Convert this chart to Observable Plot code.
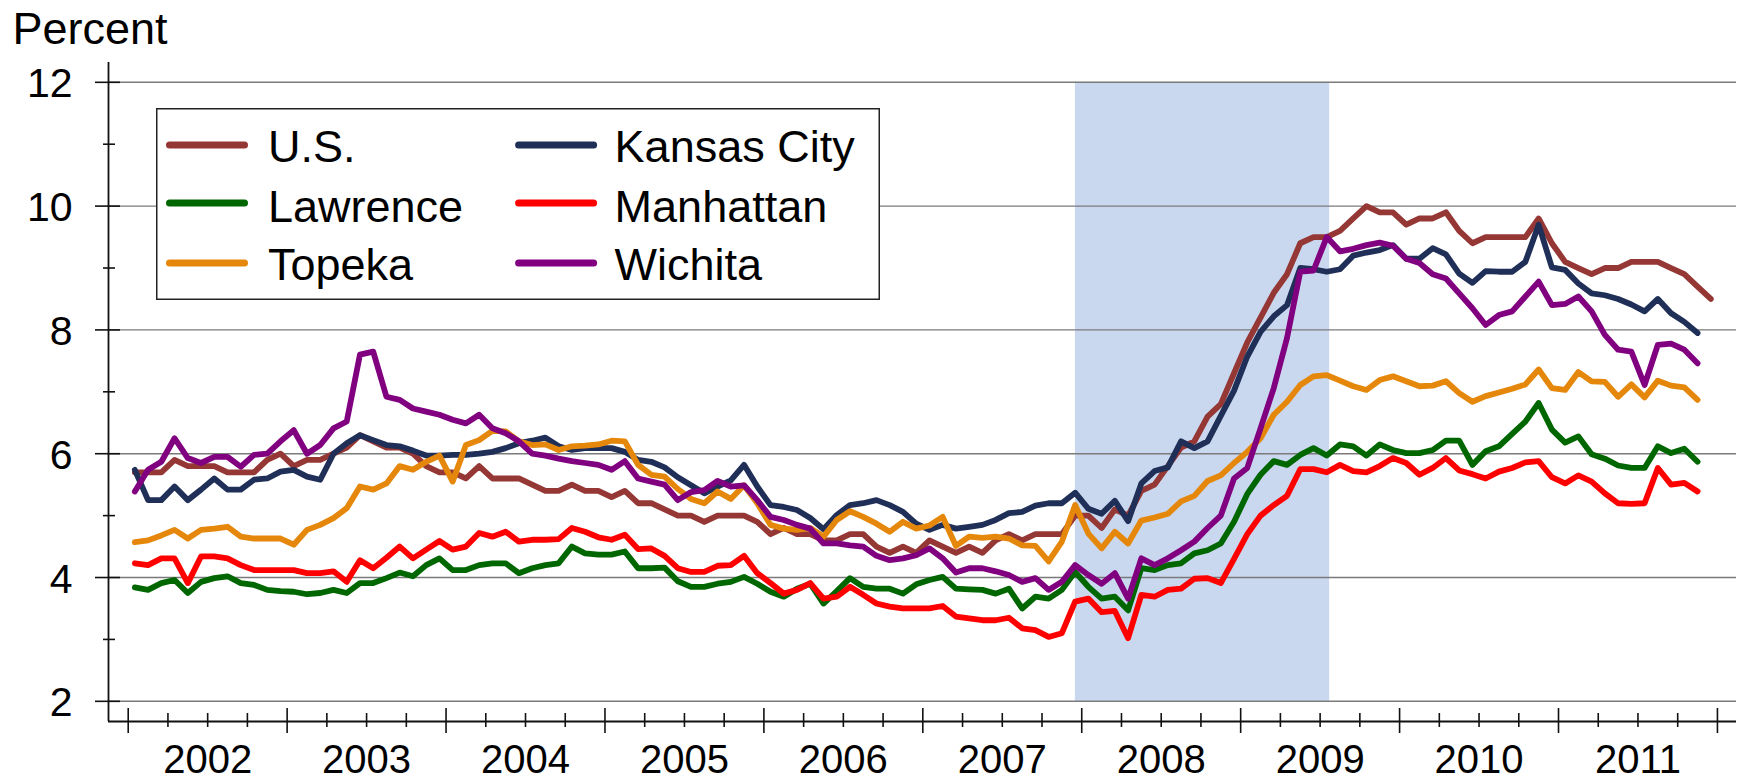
<!DOCTYPE html>
<html><head><meta charset="utf-8">
<script src="https://cdn.jsdelivr.net/npm/d3@7"></script>
<script src="https://cdn.jsdelivr.net/npm/@observablehq/plot@0.6"></script>
<style>
body{margin:0;background:#fff;}
#wrap{position:relative;width:1745px;height:782px;font-family:"Liberation Sans",Arial,sans-serif;}
#legend{position:absolute;left:156px;top:108px;}
</style></head><body><div id="wrap"></div>
<script>
// ---- data (monthly, starting January 2002) ----
const startYear = 2002;
const seriesNames = ["U.S.", "Kansas City", "Lawrence", "Manhattan", "Topeka", "Wichita"];
const seriesColors = ["#953735", "#1F2F57", "#006600", "#FF0000", "#E5870A", "#800080"];

const usRate = [
  5.7,5.7,5.7,5.9,5.8,5.8,5.8,5.7,5.7,5.7,5.9,6.0,
  5.8,5.9,5.9,6.0,6.1,6.3,6.2,6.1,6.1,6.0,5.8,5.7,
  5.7,5.6,5.8,5.6,5.6,5.6,5.5,5.4,5.4,5.5,5.4,5.4,
  5.3,5.4,5.2,5.2,5.1,5.0,5.0,4.9,5.0,5.0,5.0,4.9,
  4.7,4.8,4.7,4.7,4.6,4.6,4.7,4.7,4.5,4.4,4.5,4.4,
  4.6,4.5,4.4,4.5,4.4,4.6,4.7,4.6,4.7,4.7,4.7,5.0,
  5.0,4.8,5.1,5.0,5.4,5.5,5.8,6.1,6.2,6.6,6.8,7.3,
  7.8,8.2,8.6,8.9,9.4,9.5,9.5,9.6,9.8,10.0,9.9,9.9,
  9.7,9.8,9.8,9.9,9.6,9.4,9.5,9.5,9.5,9.5,9.8,9.4,
  9.1,9.0,8.9,9.0,9.0,9.1,9.1,9.1,9.0,8.9,8.7,8.5
];
const kansasCityRate = [
  5.74,5.25,5.25,5.47,5.25,5.42,5.6,5.42,5.42,5.58,5.6,5.71,
  5.74,5.63,5.58,6.0,6.17,6.3,6.22,6.14,6.12,6.05,5.97,5.97,
  5.98,5.98,6.0,6.03,6.09,6.17,6.21,6.26,6.12,6.06,6.09,6.09,
  6.09,6.03,5.9,5.87,5.78,5.62,5.49,5.36,5.47,5.57,5.82,5.47,
  5.17,5.14,5.09,4.96,4.78,5.01,5.17,5.2,5.25,5.17,5.06,4.87,
  4.77,4.85,4.79,4.82,4.85,4.93,5.04,5.06,5.16,5.2,5.2,5.37,
  5.11,5.03,5.24,4.91,5.52,5.72,5.78,6.2,6.09,6.2,6.61,7.02,
  7.57,7.97,8.22,8.4,9.0,8.98,8.94,8.98,9.2,9.25,9.29,9.37,
  9.15,9.15,9.32,9.22,8.91,8.76,8.95,8.94,8.94,9.1,9.7,9.01,
  8.97,8.75,8.59,8.56,8.5,8.41,8.3,8.5,8.27,8.13,7.95
];
const lawrenceRate = [
  3.84,3.8,3.91,3.96,3.75,3.93,3.99,4.02,3.91,3.88,3.8,3.78,
  3.77,3.73,3.75,3.8,3.75,3.91,3.91,3.99,4.08,4.02,4.2,4.31,
  4.12,4.12,4.2,4.23,4.23,4.07,4.15,4.2,4.23,4.5,4.39,4.37,
  4.37,4.42,4.15,4.15,4.16,3.94,3.85,3.85,3.9,3.93,4.01,3.9,
  3.77,3.69,3.82,3.9,3.58,3.78,3.99,3.85,3.82,3.82,3.74,3.89,
  3.96,4.01,3.82,3.81,3.8,3.74,3.82,3.5,3.69,3.66,3.8,4.09,
  3.85,3.66,3.69,3.47,4.15,4.12,4.2,4.23,4.39,4.44,4.55,4.9,
  5.35,5.66,5.88,5.82,5.98,6.09,5.97,6.15,6.12,5.97,6.15,6.06,
  6.01,6.01,6.06,6.21,6.21,5.82,6.04,6.12,6.32,6.52,6.82,6.39,
  6.18,6.28,5.99,5.92,5.81,5.77,5.77,6.12,6.01,6.08,5.87
];
const manhattanRate = [
  4.23,4.2,4.31,4.31,3.91,4.34,4.34,4.31,4.2,4.12,4.12,4.12,
  4.12,4.07,4.07,4.1,3.93,4.28,4.15,4.32,4.5,4.31,4.45,4.59,
  4.45,4.5,4.72,4.66,4.74,4.58,4.61,4.61,4.62,4.8,4.74,4.65,
  4.61,4.69,4.46,4.47,4.35,4.15,4.09,4.09,4.19,4.2,4.35,4.07,
  3.91,3.74,3.8,3.91,3.66,3.69,3.85,3.72,3.58,3.53,3.5,3.5,
  3.5,3.54,3.37,3.34,3.31,3.31,3.35,3.18,3.15,3.04,3.1,3.61,
  3.66,3.44,3.46,3.02,3.72,3.69,3.8,3.82,3.98,3.99,3.91,4.3,
  4.7,5.0,5.17,5.32,5.75,5.75,5.7,5.82,5.72,5.7,5.8,5.93,
  5.85,5.66,5.77,5.93,5.73,5.67,5.6,5.71,5.77,5.86,5.88,5.62,
  5.52,5.65,5.55,5.36,5.2,5.19,5.2,5.77,5.5,5.53,5.39
];
const topekaRate = [
  4.57,4.6,4.68,4.77,4.63,4.77,4.79,4.82,4.66,4.63,4.63,4.63,
  4.53,4.77,4.85,4.96,5.12,5.47,5.42,5.52,5.8,5.74,5.87,5.97,
  5.55,6.14,6.22,6.37,6.36,6.2,6.14,6.15,6.06,6.12,6.13,6.15,
  6.21,6.2,5.82,5.66,5.63,5.43,5.27,5.2,5.39,5.27,5.49,5.2,
  4.85,4.79,4.77,4.8,4.66,4.93,5.07,4.98,4.87,4.74,4.9,4.79,
  4.84,4.98,4.51,4.66,4.64,4.66,4.63,4.52,4.51,4.26,4.58,5.17,
  4.71,4.47,4.74,4.55,4.92,4.97,5.03,5.23,5.32,5.56,5.65,5.85,
  6.03,6.25,6.63,6.84,7.11,7.25,7.27,7.18,7.09,7.03,7.19,7.25,
  7.17,7.09,7.1,7.17,6.98,6.84,6.93,6.99,7.05,7.12,7.36,7.06,
  7.03,7.32,7.17,7.16,6.92,7.12,6.91,7.18,7.1,7.07,6.87
];
const wichitaRate = [
  5.39,5.74,5.87,6.25,5.93,5.85,5.95,5.95,5.79,5.98,6.0,6.2,
  6.38,6.0,6.14,6.41,6.52,7.6,7.65,6.92,6.87,6.73,6.68,6.63,
  6.55,6.49,6.63,6.41,6.33,6.2,6.0,5.97,5.92,5.88,5.85,5.82,
  5.74,5.88,5.6,5.55,5.5,5.25,5.38,5.41,5.56,5.47,5.49,5.25,
  4.98,4.93,4.85,4.79,4.55,4.55,4.52,4.5,4.35,4.28,4.31,4.36,
  4.47,4.31,4.08,4.15,4.15,4.1,4.04,3.93,3.99,3.8,3.93,4.2,
  4.04,3.9,4.07,3.66,4.31,4.2,4.31,4.44,4.58,4.8,5.0,5.6,
  5.77,6.41,7.06,7.87,8.94,8.96,9.5,9.27,9.31,9.37,9.41,9.36,
  9.15,9.08,8.9,8.83,8.59,8.35,8.08,8.24,8.3,8.54,8.78,8.4,
  8.42,8.54,8.3,7.92,7.68,7.65,7.11,7.76,7.78,7.68,7.46
];
const seriesValues = [usRate, kansasCityRate, lawrenceRate, manhattanRate, topekaRate, wichitaRate];

const yMajorTicks = [2, 4, 6, 8, 10, 12];
const yMinorTicks = [3, 5, 7, 9, 11];
const yearTicks = [2002, 2003, 2004, 2005, 2006, 2007, 2008, 2009, 2010, 2011, 2012];
const yearLabels = [2002, 2003, 2004, 2005, 2006, 2007, 2008, 2009, 2010, 2011];
const recession = [{start: 2007.96, end: 2009.56}];
const yLabel = "Percent";

// ---- build table ----
const rows = [];
seriesNames.forEach((name, s) => {
  seriesValues[s].forEach((v, i) => rows.push({series: name, date: startYear + (i + 0.5) / 12, value: v}));
});
const quarterTicks = [];
yearLabels.forEach(y => [0.25, 0.5, 0.75].forEach(q => quarterTicks.push(y + q)));

// ---- layout ----
const W = 1745, H = 782, mL = 108, mR = 9, mT = 62, mB = 61;
const xDomain = [2001.876, 2012.12], yDomain = [1.674, 12.32];
const xs = Plot.scale({x: {domain: xDomain, range: [mL, W - mR]}});
const ys = Plot.scale({y: {domain: yDomain, range: [H - mB, mT]}});
const font = "'Liberation Sans', Arial, sans-serif";

const chart = Plot.plot({
  width: W, height: H,
  marginLeft: mL, marginRight: mR, marginTop: mT, marginBottom: mB,
  x: {domain: xDomain, axis: null},
  y: {domain: yDomain, axis: null},
  color: {domain: seriesNames, range: seriesColors},
  style: {fontFamily: font, background: "white", color: "black", overflow: "visible"},
  marks: [
    Plot.rect(recession, {x1: "start", x2: "end", y1: 2, y2: 12, fill: "#CAD8EF"}),
    Plot.ruleY(yMajorTicks, {x1: xDomain[0], x2: xDomain[1], stroke: "#7a7a7a", strokeWidth: 1.4}),
    Plot.ruleY(yMajorTicks, {x1: xs.invert(95), x2: xs.invert(120), stroke: "#111", strokeWidth: 1.6}),
    Plot.ruleY(yMinorTicks, {x1: xs.invert(103), x2: xs.invert(115), stroke: "#111", strokeWidth: 1.6}),
    Plot.ruleX([xDomain[0]], {y1: yDomain[0], y2: yDomain[1], stroke: "#111", strokeWidth: 1.8}),
    Plot.ruleY([yDomain[0]], {x1: xDomain[0], x2: xDomain[1], stroke: "#111", strokeWidth: 1.8}),
    Plot.ruleX(yearTicks, {y1: ys.invert(708), y2: ys.invert(733), stroke: "#111", strokeWidth: 1.6}),
    Plot.ruleX(quarterTicks, {y1: ys.invert(713), y2: ys.invert(727), stroke: "#111", strokeWidth: 1.6}),
    Plot.line(rows, {x: "date", y: "value", z: "series", stroke: "series", strokeWidth: 5.8,
      strokeLinejoin: "round", strokeLinecap: "round"}),
    Plot.text(yMajorTicks, {x: xs.invert(72), y: d => d, text: d => String(d), textAnchor: "end",
      fontSize: 41, dy: 2, fill: "black"}),
    Plot.text(yearLabels, {x: d => d + 0.5, y: ys.invert(772), text: d => String(d), lineAnchor: "bottom",
      fontSize: 40, fill: "black"}),
    Plot.text([yLabel], {x: xs.invert(12), y: ys.invert(43), text: d => d, textAnchor: "start",
      lineAnchor: "bottom", fontSize: 45, fill: "black"})
  ]
});
const wrap = document.getElementById("wrap");
wrap.appendChild(chart);

// ---- legend (framed box inside the plot) ----
const LW = 724, LH = 192;
const leg = d3.select(wrap).append("svg").attr("id", "legend")
  .attr("width", LW).attr("height", LH).style("font-family", font);
leg.append("rect").attr("x", 0.75).attr("y", 0.75).attr("width", LW - 1.5).attr("height", LH - 1.5)
  .attr("fill", "white").attr("stroke", "#222").attr("stroke-width", 1.5);
const colX = [10.5, 359.6], textX = [112, 458.6], rowY = [37, 95, 155], baseY = [54, 114, 172];
seriesNames.forEach((name, i) => {
  const r = Math.floor(i / 2), c = i % 2;
  const g = leg.append("g");
  g.append("line").attr("x1", colX[c] + 3).attr("x2", colX[c] + 78).attr("y1", rowY[r]).attr("y2", rowY[r])
    .attr("stroke", seriesColors[i]).attr("stroke-width", 7).attr("stroke-linecap", "round");
  g.append("text").attr("x", textX[c]).attr("y", baseY[r]).attr("font-size", 45).attr("fill", "black").text(name);
});
</script>
</body></html>
